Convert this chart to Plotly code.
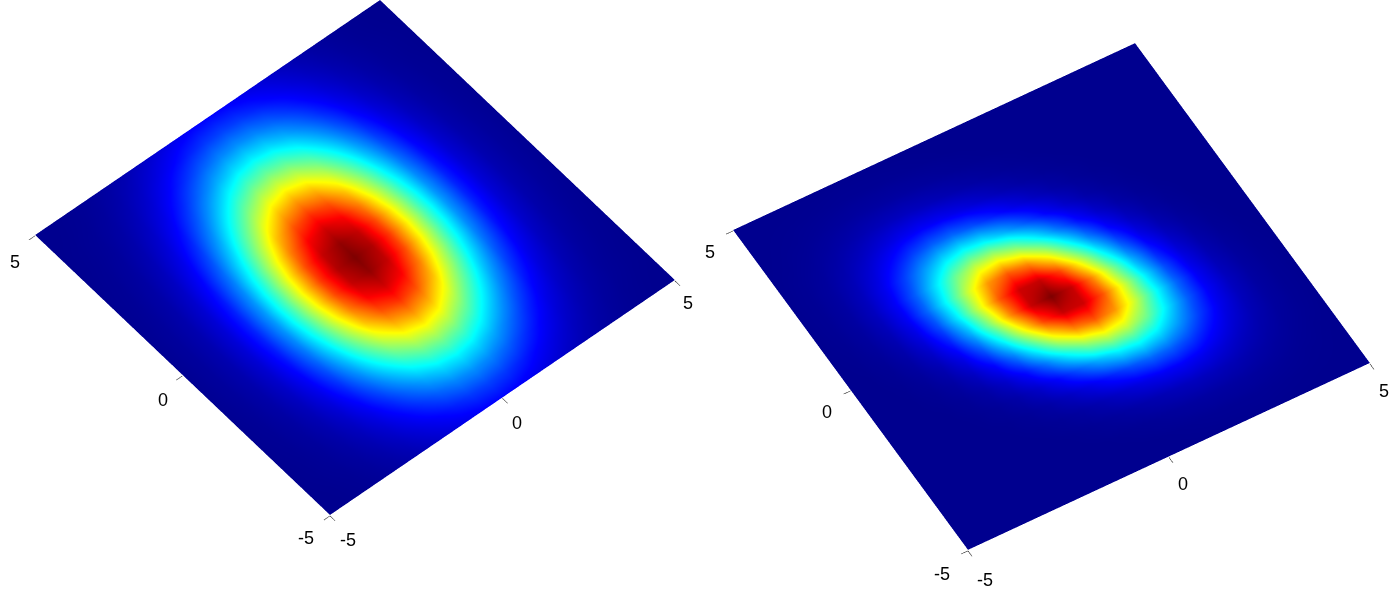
import numpy as np
import plotly.graph_objects as go

grid_values = [-5.0,-4.5,-4.0,-3.5,-3.0,-2.5,-2.0,-1.5,-1.0,-0.5,0.0,0.5,1.0,1.5,2.0,2.5,3.0,3.5,4.0,4.5,5.0]
tick_values = [-5, 0, 5]
tick_labels = ["-5", "0", "5"]

color_left = [
[.001,.002,.005,.011,.021,.036,.057,.082,.105,.123,.129,.123,.105,.082,.057,.036,.021,.011,.005,.002,.001],
[.001,.003,.007,.016,.031,.054,.085,.120,.155,.181,.190,.181,.155,.120,.085,.054,.031,.016,.007,.003,.001],
[.002,.005,.011,.023,.044,.076,.120,.171,.221,.257,.270,.257,.221,.171,.120,.076,.044,.023,.011,.005,.002],
[.002,.006,.014,.031,.059,.103,.163,.232,.299,.348,.366,.348,.299,.232,.163,.103,.059,.031,.014,.006,.002],
[.003,.008,.019,.040,.077,.135,.213,.303,.391,.455,.478,.455,.391,.303,.213,.135,.077,.040,.019,.008,.003],
[.004,.010,.023,.050,.097,.169,.267,.380,.489,.570,.599,.570,.489,.380,.267,.169,.097,.050,.023,.010,.004],
[.004,.012,.028,.060,.117,.203,.320,.456,.588,.685,.720,.685,.588,.456,.320,.203,.117,.060,.028,.012,.004],
[.005,.014,.032,.070,.135,.235,.370,.527,.680,.791,.832,.791,.680,.527,.370,.235,.135,.070,.032,.014,.005],
[.006,.016,.036,.077,.149,.260,.410,.584,.752,.876,.921,.876,.752,.584,.410,.260,.149,.077,.036,.016,.006],
[.006,.017,.038,.082,.159,.276,.436,.621,.801,.932,.980,.932,.801,.621,.436,.276,.159,.082,.038,.017,.006],
[.006,.017,.039,.084,.162,.282,.445,.634,.817,.951,1.00,.951,.817,.634,.445,.282,.162,.084,.039,.017,.006],
[.006,.017,.038,.082,.159,.276,.436,.621,.801,.932,.980,.932,.801,.621,.436,.276,.159,.082,.038,.017,.006],
[.006,.016,.036,.077,.149,.260,.410,.584,.752,.876,.921,.876,.752,.584,.410,.260,.149,.077,.036,.016,.006],
[.005,.014,.032,.070,.135,.235,.370,.527,.680,.791,.832,.791,.680,.527,.370,.235,.135,.070,.032,.014,.005],
[.004,.012,.028,.060,.117,.203,.320,.456,.588,.685,.720,.685,.588,.456,.320,.203,.117,.060,.028,.012,.004],
[.004,.010,.023,.050,.097,.169,.267,.380,.489,.570,.599,.570,.489,.380,.267,.169,.097,.050,.023,.010,.004],
[.003,.008,.019,.040,.077,.135,.213,.303,.391,.455,.478,.455,.391,.303,.213,.135,.077,.040,.019,.008,.003],
[.002,.006,.014,.031,.059,.103,.163,.232,.299,.348,.366,.348,.299,.232,.163,.103,.059,.031,.014,.006,.002],
[.002,.005,.011,.023,.044,.076,.120,.171,.221,.257,.270,.257,.221,.171,.120,.076,.044,.023,.011,.005,.002],
[.001,.003,.007,.016,.031,.054,.085,.120,.155,.181,.190,.181,.155,.120,.085,.054,.031,.016,.007,.003,.001],
[.001,.002,.005,.011,.021,.036,.057,.082,.105,.123,.129,.123,.105,.082,.057,.036,.021,.011,.005,.002,.001],
]

color_right = [
[0,0,0,0,0,0,0,0,0,0,.001,.001,.002,.002,.003,.003,.002,.002,.001,.001,0],
[0,0,0,0,0,0,0,0,.001,.001,.002,.004,.006,.008,.008,.008,.006,.004,.003,.002,.001],
[0,0,0,0,0,0,0,.001,.002,.004,.008,.014,.019,.022,.022,.020,.015,.010,.005,.003,.001],
[0,0,0,0,0,0,.001,.003,.007,.015,.026,.038,.049,.056,.053,.044,.031,.019,.010,.004,.002],
[0,0,0,0,0,.002,.004,.010,.022,.041,.068,.095,.114,.119,.107,.082,.054,.031,.015,.007,.002],
[0,0,0,0,.002,.004,.012,.028,.058,.100,.154,.201,.228,.220,.185,.132,.082,.044,.020,.008,.003],
[0,0,0,.001,.004,.012,.030,.068,.129,.213,.301,.369,.388,.352,.275,.185,.107,.053,.022,.008,.003],
[0,0,.001,.003,.010,.028,.068,.140,.250,.385,.510,.582,.571,.483,.352,.220,.119,.056,.022,.008,.002],
[0,.001,.002,.007,.022,.058,.129,.250,.417,.600,.741,.789,.723,.571,.388,.228,.114,.049,.019,.006,.002],
[0,.001,.004,.015,.041,.100,.213,.385,.600,.804,.928,.922,.789,.582,.369,.201,.095,.038,.014,.004,.001],
[.001,.002,.008,.026,.068,.154,.301,.510,.741,.928,1.00,.928,.741,.510,.301,.154,.068,.026,.008,.002,.001],
[.001,.004,.014,.038,.095,.201,.369,.582,.789,.922,.928,.804,.600,.385,.213,.100,.041,.015,.004,.001,0],
[.002,.006,.019,.049,.114,.228,.388,.571,.723,.789,.741,.600,.417,.250,.129,.058,.022,.007,.002,.001,0],
[.002,.008,.022,.056,.119,.220,.352,.483,.571,.582,.510,.385,.250,.140,.068,.028,.010,.003,.001,0,0],
[.003,.008,.022,.053,.107,.185,.275,.352,.388,.369,.301,.213,.129,.068,.030,.012,.004,.001,0,0,0],
[.003,.008,.020,.044,.082,.132,.185,.220,.228,.201,.154,.100,.058,.028,.012,.004,.002,0,0,0,0],
[.002,.007,.015,.031,.054,.082,.107,.119,.114,.095,.068,.041,.022,.010,.004,.002,0,0,0,0,0],
[.002,.004,.010,.019,.031,.044,.053,.056,.049,.038,.026,.015,.007,.003,.001,0,0,0,0,0,0],
[.001,.003,.005,.010,.015,.020,.022,.022,.019,.014,.008,.004,.002,.001,0,0,0,0,0,0,0],
[.001,.002,.003,.004,.006,.008,.008,.008,.006,.004,.002,.001,.001,0,0,0,0,0,0,0,0],
[0,.001,.001,.002,.002,.003,.003,.002,.002,.001,.001,0,0,0,0,0,0,0,0,0,0],
]

jet = [[0, "rgb(0,0,143)"], [0.125, "rgb(0,0,255)"], [0.375, "rgb(0,255,255)"],
       [0.625, "rgb(255,255,0)"], [0.875, "rgb(255,0,0)"], [1, "rgb(128,0,0)"]]


def surf(values, scene):
    return go.Surface(x=grid_values, y=grid_values, z=np.zeros((21, 21)), surfacecolor=values,
                      cmin=0, cmax=1, colorscale=jet, showscale=False, scene=scene, hoverinfo="skip",
                      lighting=dict(ambient=1, diffuse=0, specular=0, fresnel=0, roughness=1))


def scene_layout(domain, right, up, k, dist, dx, dy, aspect, labels):
    r, u = np.array(right), np.array(up)
    r = r / np.linalg.norm(r)
    u = u / np.linalg.norm(u)
    n = np.cross(r, u)
    c = -(r * dx + u * dy) / k
    e = c + n * dist
    ax = dict(range=[-5, 5], tickvals=tick_values, ticktext=tick_labels, ticks="outside", ticklen=8,
              tickcolor="black", tickwidth=1, showticklabels=False, showgrid=False, zeroline=False,
              showline=False, showbackground=False, showspikes=False, title=dict(text=""))
    return dict(domain=dict(x=domain, y=[0, 1]), xaxis=ax, yaxis=ax,
                zaxis=dict(range=[-1, 1], visible=False),
                aspectmode="manual", aspectratio=dict(x=aspect, y=aspect, z=0.01),
                camera=dict(eye=dict(x=e[0], y=e[1], z=e[2]), center=dict(x=c[0], y=c[1], z=c[2]),
                            up=dict(x=u[0], y=u[1], z=u[2]), projection=dict(type="orthographic")),
                annotations=[dict(x=a, y=b, z=0, text=t, showarrow=False, xshift=sx, yshift=sy,
                                  font=dict(family="Liberation Sans", size=18, color="black"))
                             for a, b, t, sx, sy in labels])


left_labels = [(5, -5, "5", 13, -23), (0, -5, "0", 15, -25), (-5, -5, "-5", 18, -25),
               (-5, 5, "5", -20, -27), (-5, 0, "0", -20, -25), (-5, -5, "-5", -24, -23)]
right_labels = [(5, -5, "5", 14, -28), (0, -5, "0", 14, -28), (-5, -5, "-5", 17, -30),
                (-5, 5, "5", -23, -22), (-5, 0, "0", -24, -22), (-5, -5, "-5", -26, -24)]

fig = go.Figure([surf(color_left, "scene"), surf(color_right, "scene2")])
fig.update_layout(
    width=1398, height=600, margin=dict(l=0, r=0, t=0, b=0), paper_bgcolor="white", showlegend=False,
    scene=scene_layout([0, 0.5], (34.5, -29.5, 0.566), (23.5, 28, 26.9), 300, 2.0, 5.5, 42.5, 1.513, left_labels),
    scene2=scene_layout([0.5, 1], (40.2, -23.5, 0.0), (18.7, 32, 28.2), 300, 2.0, 3, 3.5, 1.552, right_labels),
)
fig.write_html("out.html", config=dict(displayModeBar=False),
               post_script="document.body.style.margin='0';document.body.style.overflow='hidden';")
